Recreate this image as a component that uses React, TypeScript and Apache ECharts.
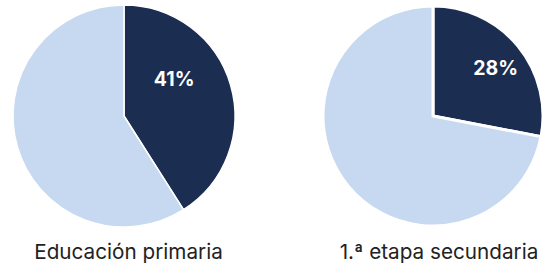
import React, { useEffect, useRef } from "react";
import * as echarts from "echarts";

const categories = ["Educación primaria", "1.ª etapa secundaria"];
const shareValues = [41, 28];
const DARK = "#1b2e51";
const LIGHT = "#c6d9f1";

export default function App() {
  const ref = useRef<HTMLDivElement>(null);
  useEffect(() => {
    document.body.style.margin = "0";
    if (!ref.current) return;
    const chart = echarts.init(ref.current, undefined, { renderer: "svg" });
    const centers = [
      [124, 116],
      [433, 116],
    ];
    const radii = [111, 110];
    const offsets = [
      [-6, -21],
      [18, -11],
    ];
    const borders = [1.5, 3];
    const series = categories.map((cat, i) => ({
      type: "pie",
      center: centers[i],
      radius: [0, radii[i]],
      startAngle: 90,
      clockwise: true,
      silent: true,
      avoidLabelOverlap: false,
      labelLine: { show: false },
      itemStyle: { borderColor: "#fff", borderWidth: borders[i] },
      data: [
        {
          name: cat,
          value: shareValues[i],
          itemStyle: { color: DARK },
          label: {
            show: true,
            position: "inside",
            formatter: "{c}%",
            color: "#fff",
            fontSize: 19.5,
            fontWeight: "bold",
            fontFamily: "Inter",
            offset: offsets[i],
          },
        },
        {
          name: cat + " resto",
          value: 100 - shareValues[i],
          itemStyle: { color: LIGHT },
          label: { show: false },
        },
      ],
    }));
    const titleX = [128.5, 439];
    chart.setOption({
      animation: false,
      series,
      graphic: categories.map((cat, i) => ({
        type: "text",
        x: titleX[i],
        y: 251,
        style: {
          text: cat,
          fill: "#222",
          fontSize: 20.7,
          fontFamily: "Inter",
          textAlign: "center",
          textVerticalAlign: "middle",
        },
      })),
    });
    return () => chart.dispose();
  }, []);
  return <div ref={ref} style={{ width: 549, height: 267 }} />;
}
